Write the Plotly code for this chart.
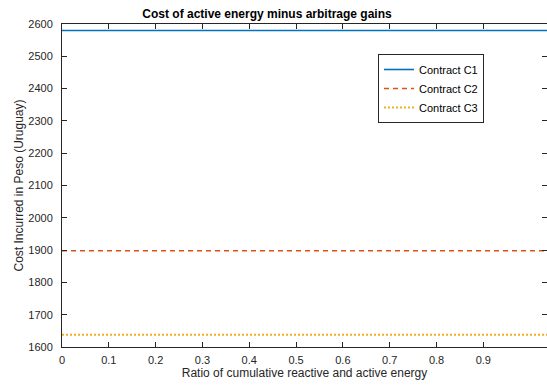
import numpy as np
import plotly.graph_objects as go

ratio = [0.0, 0.1, 0.2, 0.3, 0.4, 0.5, 0.6, 0.7, 0.8, 0.9, 1.0, 1.1]
series_names = ["Contract C1", "Contract C2", "Contract C3"]
c1_cost = [2580] * len(ratio)
c2_cost = [1898] * len(ratio)
c3_cost = [1638] * len(ratio)
x_ticks = [0, 0.1, 0.2, 0.3, 0.4, 0.5, 0.6, 0.7, 0.8, 0.9]
x_tick_labels = ["0", "0.1", "0.2", "0.3", "0.4", "0.5", "0.6", "0.7", "0.8", "0.9"]
y_ticks = [1600, 1700, 1800, 1900, 2000, 2100, 2200, 2300, 2400, 2500, 2600]

FONT = "Liberation Sans, Arial, Helvetica, sans-serif"
AX = "#262626"

fig = go.Figure()
fig.add_trace(go.Scatter(x=ratio, y=c1_cost, mode="lines", name=series_names[0],
                         line=dict(color="#0072BD", width=1.6)))
fig.add_trace(go.Scatter(x=ratio, y=c2_cost, mode="lines", name=series_names[1],
                         line=dict(color="#D95319", width=1.6, dash="5px,4px")))
fig.add_trace(go.Scatter(x=ratio, y=c3_cost, mode="lines", name=series_names[2],
                         line=dict(color="#EDB120", width=2.2, dash="2px,2px")))

fig.update_layout(
    width=547, height=385,
    margin=dict(l=62, r=0, t=24, b=38),
    paper_bgcolor="white", plot_bgcolor="white",
    font=dict(family=FONT, size=12, color=AX),
    title=dict(text="<b>Cost of active energy minus arbitrage gains</b>",
               x=267/547, xanchor="center", y=1-14/385, yanchor="middle",
               font=dict(size=12, color="black")),
    showlegend=True,
    legend=dict(x=(378-62)/485, y=(347-54)/323, xanchor="left", yanchor="top",
                bgcolor="white", bordercolor=AX, borderwidth=1,
                font=dict(size=11, color="black"), itemwidth=30,
                entrywidth=112, entrywidthmode="pixels",
                tracegroupgap=0),
    xaxis=dict(range=[0, 1.036], tickvals=x_ticks, ticktext=x_tick_labels,
               ticks="inside", ticklen=5, tickcolor=AX, showline=True,
               linecolor=AX, linewidth=1, mirror="ticks", showgrid=False,
               zeroline=False, tickfont=dict(size=11, color=AX),
               ticklabelstandoff=3, automargin=False,
               title=dict(text="Ratio of cumulative reactive and active energy",
                          font=dict(size=12, color=AX), standoff=0)),
    yaxis=dict(range=[1600, 2600], tickvals=y_ticks,
               ticks="inside", ticklen=5, tickcolor=AX, showline=True,
               linecolor=AX, linewidth=1, mirror="ticks", showgrid=False,
               zeroline=False, tickfont=dict(size=11, color=AX),
               ticklabelstandoff=6, automargin=False,
               title=dict(text="Cost Incurred in Peso (Uruguay)",
                          font=dict(size=12, color=AX), standoff=2)),
)

fig.write_html("out.html", config={"displayModeBar": False})
with open("out.html", "r", encoding="utf-8") as f:
    html = f.read()
html = html.replace("<head>", "<head><style>html,body{margin:0;padding:0;overflow:hidden;}</style>", 1)
with open("out.html", "w", encoding="utf-8") as f:
    f.write(html)
